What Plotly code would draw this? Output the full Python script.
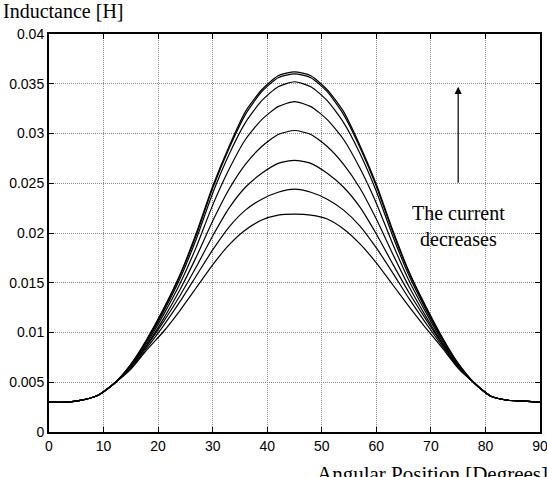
import plotly.graph_objects as go

angle = [0, 3, 6, 9, 12, 15, 18, 21, 24, 27, 30, 33, 36, 39, 42, 45,
         48, 51, 54, 57, 60, 63, 66, 69, 72, 75, 78, 81, 84, 87, 90]

L1 = [0.0030, 0.0030, 0.0032, 0.0037, 0.0049, 0.0068, 0.0094, 0.0124, 0.0158, 0.0200, 0.0247, 0.0287, 0.0322, 0.0344, 0.0358, 0.0362,
      0.0358, 0.0344, 0.0322, 0.0288, 0.0249, 0.0203, 0.0161, 0.0127, 0.0096, 0.0069, 0.0049, 0.0036, 0.0032, 0.0031, 0.0030]
L2 = [0.0030, 0.0030, 0.0032, 0.0037, 0.0049, 0.0068, 0.0093, 0.0123, 0.0157, 0.0198, 0.0245, 0.0285, 0.0319, 0.0342, 0.0356, 0.0360,
      0.0356, 0.0342, 0.0319, 0.0286, 0.0247, 0.0201, 0.0160, 0.0126, 0.0095, 0.0069, 0.0049, 0.0036, 0.0032, 0.0031, 0.0030]
L3 = [0.0030, 0.0030, 0.0032, 0.0037, 0.0049, 0.0067, 0.0092, 0.0121, 0.0154, 0.0194, 0.0240, 0.0279, 0.0311, 0.0333, 0.0347, 0.0352,
      0.0347, 0.0333, 0.0311, 0.0280, 0.0242, 0.0197, 0.0157, 0.0124, 0.0094, 0.0068, 0.0049, 0.0036, 0.0032, 0.0031, 0.0030]
L4 = [0.0030, 0.0030, 0.0032, 0.0037, 0.0049, 0.0067, 0.0090, 0.0118, 0.0149, 0.0186, 0.0228, 0.0264, 0.0294, 0.0314, 0.0327, 0.0332,
      0.0327, 0.0314, 0.0294, 0.0265, 0.0230, 0.0189, 0.0152, 0.0121, 0.0092, 0.0068, 0.0049, 0.0036, 0.0032, 0.0031, 0.0030]
L5 = [0.0030, 0.0030, 0.0032, 0.0037, 0.0049, 0.0066, 0.0088, 0.0114, 0.0143, 0.0176, 0.0212, 0.0244, 0.0269, 0.0287, 0.0299, 0.0303,
      0.0299, 0.0287, 0.0269, 0.0245, 0.0214, 0.0179, 0.0146, 0.0117, 0.0090, 0.0067, 0.0049, 0.0036, 0.0032, 0.0031, 0.0030]
L6 = [0.0030, 0.0030, 0.0032, 0.0037, 0.0049, 0.0065, 0.0087, 0.0111, 0.0137, 0.0166, 0.0197, 0.0225, 0.0246, 0.0260, 0.0270, 0.0273,
      0.0270, 0.0260, 0.0246, 0.0226, 0.0199, 0.0169, 0.0140, 0.0114, 0.0089, 0.0066, 0.0049, 0.0036, 0.0032, 0.0031, 0.0030]
L7 = [0.0030, 0.0030, 0.0032, 0.0037, 0.0049, 0.0064, 0.0085, 0.0107, 0.0131, 0.0157, 0.0183, 0.0206, 0.0223, 0.0234, 0.0241, 0.0244,
      0.0241, 0.0234, 0.0223, 0.0207, 0.0185, 0.0160, 0.0134, 0.0110, 0.0087, 0.0065, 0.0049, 0.0036, 0.0032, 0.0031, 0.0030]
L8 = [0.0030, 0.0030, 0.0032, 0.0037, 0.0049, 0.0063, 0.0083, 0.0101, 0.0122, 0.0145, 0.0168, 0.0188, 0.0203, 0.0213, 0.0218, 0.0219,
      0.0218, 0.0214, 0.0204, 0.0189, 0.0170, 0.0148, 0.0126, 0.0105, 0.0085, 0.0064, 0.0049, 0.0036, 0.0032, 0.0031, 0.0030]

curves = [L1, L2, L3, L4, L5, L6, L7, L8]

x_ticks = [0, 10, 20, 30, 40, 50, 60, 70, 80, 90]
y_ticks = [0, 0.005, 0.01, 0.015, 0.02, 0.025, 0.03, 0.035, 0.04]
y_labels = ["0", "0.005", "0.01", "0.015", "0.02", "0.025", "0.03", "0.035", "0.04"]

fig = go.Figure()
for c in curves:
    fig.add_trace(go.Scatter(x=angle, y=c, mode="lines",
                             line=dict(color="black", width=1.2, shape="spline", smoothing=0.6),
                             showlegend=False, hoverinfo="skip"))

axis_common = dict(
    showline=True, linecolor="black", linewidth=2, mirror="ticks",
    ticks="inside", ticklen=5, tickcolor="black", tickwidth=1,
    showgrid=True, gridcolor="#8a8a8a", griddash="1px,1px", gridwidth=1,
    zeroline=False, automargin=False, ticklabeloverflow="allow",
    tickfont=dict(family="Liberation Sans, Arial, sans-serif", size=14, color="black"),
)

fig.update_xaxes(range=[0, 90], tickvals=x_ticks, ticktext=[str(v) for v in x_ticks], **axis_common)
fig.update_yaxes(range=[0, 0.04], tickvals=y_ticks, ticktext=y_labels, **axis_common)

serif = dict(family="Liberation Serif, Times New Roman, serif", size=20, color="black")

fig.add_annotation(x=0, y=1, xref="paper", yref="paper", xshift=-48, yshift=36,
                   text="Inductance [H]", showarrow=False, xanchor="left", yanchor="top",
                   font=serif)
fig.add_annotation(x=1.0, y=0, xref="paper", yref="paper", xshift=10, yshift=-28,
                   text="Angular Position [Degrees]", showarrow=False, xanchor="right", yanchor="top",
                   font=dict(family="Liberation Serif, Times New Roman, serif", size=21, color="black"))
fig.add_annotation(x=75, y=0.0207, xref="x", yref="y",
                   text="The current<br>decreases", showarrow=False, xanchor="center", yanchor="middle",
                   font=serif, align="center")
fig.add_annotation(x=75, y=0.0347, ax=75, ay=0.0249, xref="x", yref="y", axref="x", ayref="y",
                   text="", showarrow=True, arrowhead=2, arrowsize=1.2, arrowwidth=1.2, arrowcolor="black")

fig.update_layout(
    width=547, height=477,
    margin=dict(l=49, r=7, t=34, b=45, autoexpand=False),
    plot_bgcolor="white", paper_bgcolor="white",
)

fig.write_html("out.html")
